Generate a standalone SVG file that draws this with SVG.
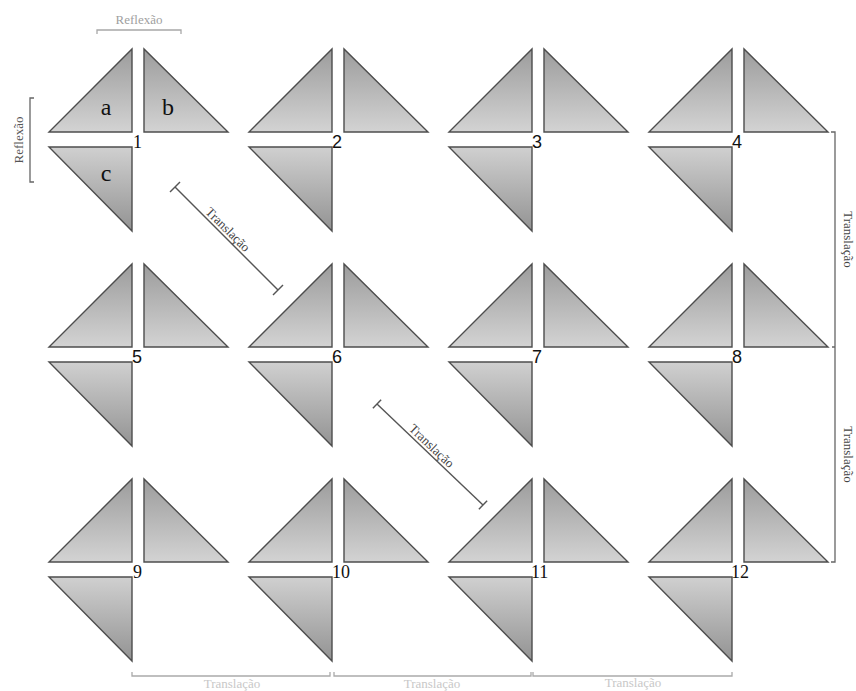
<svg xmlns="http://www.w3.org/2000/svg" xmlns:xlink="http://www.w3.org/1999/xlink" width="856" height="691" viewBox="0 0 856 691">
<style>
.tri{stroke:#4d4d4d;stroke-width:1.4;stroke-linejoin:miter}
.ta{fill:url(#gDown)}
.tc{fill:url(#gUp)}
.num{font-size:18px;fill:#111}
.sans{font-family:"Liberation Sans",Arial,sans-serif}
.serif{font-family:"Liberation Serif","Times New Roman",serif}
.lbl{font-family:"Liberation Serif","Times New Roman",serif;font-size:13px}
.br{fill:none;stroke-width:1.3}
</style>
<defs>
<linearGradient id="gDown" x1="0" y1="0" x2="0" y2="1">
<stop offset="0" stop-color="#9c9c9c"/>
<stop offset="1" stop-color="#d3d3d3"/>
</linearGradient>
<linearGradient id="gUp" x1="0" y1="0" x2="0" y2="1">
<stop offset="0" stop-color="#d0d0d0"/>
<stop offset="1" stop-color="#939393"/>
</linearGradient>
<g id="tri3">
<polygon class="tri ta" points="0,-83 0,0 -83,0"/>
<polygon class="tri ta" points="12,-83 12,0 96,0"/>
<polygon class="tri tc" points="-83,15 0,15 0,99"/>
</g>
</defs>
<rect width="856" height="691" fill="#fff"/>

<g id="cell-1"><use xlink:href="#tri3" x="132" y="132"/><text class="num serif" x="133" y="147.5">1</text>
<text class="serif" x="106" y="115" font-size="24" text-anchor="middle" fill="#111">a</text>
<text class="serif" x="168" y="115" font-size="24" text-anchor="middle" fill="#111">b</text>
<text class="serif" x="106" y="181" font-size="24" text-anchor="middle" fill="#111">c</text></g>
<g id="cell-2"><use xlink:href="#tri3" x="332" y="132"/><text class="num sans" x="332" y="147.5">2</text></g>
<g id="cell-3"><use xlink:href="#tri3" x="532" y="132"/><text class="num sans" x="532" y="147.5">3</text></g>
<g id="cell-4"><use xlink:href="#tri3" x="732" y="132"/><text class="num sans" x="732" y="147.5">4</text></g>
<g id="cell-5"><use xlink:href="#tri3" x="132" y="347"/><text class="num sans" x="132" y="362.5">5</text></g>
<g id="cell-6"><use xlink:href="#tri3" x="332" y="347"/><text class="num sans" x="332" y="362.5">6</text></g>
<g id="cell-7"><use xlink:href="#tri3" x="532" y="347"/><text class="num sans" x="532" y="362.5">7</text></g>
<g id="cell-8"><use xlink:href="#tri3" x="732" y="347"/><text class="num sans" x="732" y="362.5">8</text></g>
<g id="cell-9"><use xlink:href="#tri3" x="132" y="562"/><text class="num serif" x="133" y="577.5">9</text></g>
<g id="cell-10"><use xlink:href="#tri3" x="332" y="562"/><text class="num serif" x="332" y="577.5">10</text></g>
<g id="cell-11"><use xlink:href="#tri3" x="532" y="562"/><text class="num serif" x="531" y="577.5">11</text></g>
<g id="cell-12"><use xlink:href="#tri3" x="732" y="562"/><text class="num serif" x="731" y="577.5">12</text></g>

<g id="connectors">
<g id="refl-top">
<path class="br" stroke="#a8a8a8" d="M97,34 V30 H181 V34"/>
<text class="lbl" x="139" y="24" text-anchor="middle" fill="#a0a0a0" font-size="14">Reflexão</text>
</g>
<g id="refl-left">
<path class="br" stroke="#666" d="M34,98 H30 V182 H34"/>
<text class="lbl" transform="translate(23,140) rotate(-90)" text-anchor="middle" fill="#555" font-size="14">Reflexão</text>
</g>
<g id="trans-diag-1" stroke="#555" stroke-width="1.4">
<line x1="175" y1="187" x2="278" y2="290"/>
<line x1="170" y1="192" x2="180" y2="182"/>
<line x1="273" y1="295" x2="283" y2="285"/>
<text class="lbl" stroke="none" fill="#444" transform="translate(224.8,232.6) rotate(45)" text-anchor="middle">Translação</text>
</g>
<g id="trans-diag-2" stroke="#555" stroke-width="1.4">
<line x1="377" y1="404" x2="483" y2="505"/>
<line x1="372.9" y1="408.3" x2="381.1" y2="399.7"/>
<line x1="478.9" y1="509.3" x2="487.1" y2="500.7"/>
<text class="lbl" stroke="none" fill="#444" transform="translate(428.7,449.1) rotate(43.6)" text-anchor="middle">Translação</text>
</g>
<g id="trans-right">
<path class="br" stroke="#666" d="M831,132 H835 V562 H831 M835,347 H832"/>
<text class="lbl" transform="translate(844,239.5) rotate(90)" text-anchor="middle" fill="#444">Translação</text>
<text class="lbl" transform="translate(844,454.5) rotate(90)" text-anchor="middle" fill="#444">Translação</text>
</g>
<g id="trans-bottom">
<path class="br" stroke="#aaa" d="M132,672 V676 H330 V672 M334,672 V676 H531 V672 M533,672 V676 H732 V672"/>
<text class="lbl" x="232" y="687.5" text-anchor="middle" fill="#c8c8c8" font-size="12">Translação</text>
<text class="lbl" x="432" y="687.5" text-anchor="middle" fill="#c8c8c8" font-size="12">Translação</text>
<text class="lbl" x="633" y="686.5" text-anchor="middle" fill="#c8c8c8" font-size="12">Translação</text>
</g>
</g>
</svg>
